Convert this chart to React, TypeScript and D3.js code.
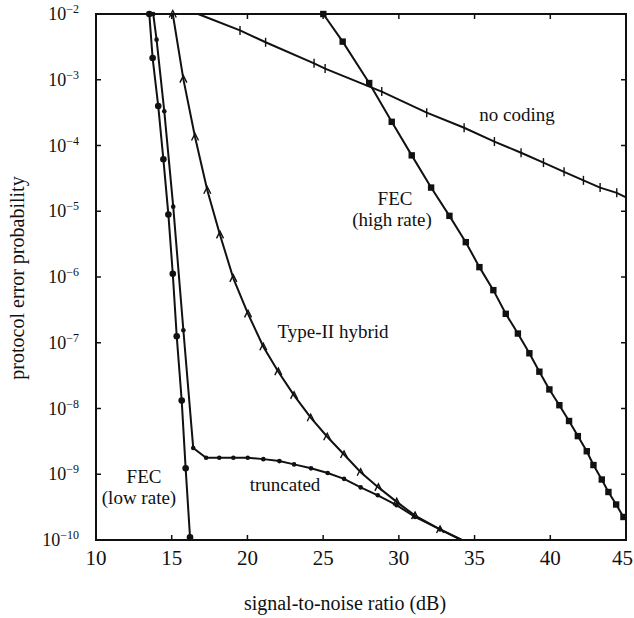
import React from "react";
import * as d3 from "d3";

// SNR (dB) and log10 of protocol error probability for each scheme
const fecLowRate: [number, number][] = [
  [13.52, -2], [13.74, -2.67], [14.11, -3.4], [14.45, -4.21], [14.78, -5.05],
  [15.07, -5.95], [15.33, -6.9], [15.66, -7.88], [15.92, -8.91], [16.21, -9.96],
];

const truncated: [number, number][] = [
  [13.78, -2], [14.0, -2.39], [14.51, -3.48], [15.1, -4.93], [15.77, -6.81],
  [16.42, -8.6], [17.27, -8.75], [18.14, -8.75], [19.07, -8.75], [20.02, -8.75],
  [21.05, -8.77], [22.11, -8.8], [23.08, -8.85], [24.2, -8.91], [25.3, -8.98],
  [26.38, -9.07], [27.48, -9.2], [28.61, -9.32], [29.85, -9.47], [31.07, -9.65],
  [32.72, -9.84], [34.15, -10],
];

const typeIIHybrid: [number, number][] = [
  [15.07, -2], [15.77, -2.99], [16.54, -3.87], [17.35, -4.68], [18.19, -5.36],
  [19.07, -6.02], [20.04, -6.56], [21.05, -7.06], [22.04, -7.44], [23.08, -7.8],
  [24.18, -8.14], [25.27, -8.43], [26.38, -8.7], [27.48, -8.97], [28.65, -9.2],
  [29.86, -9.42], [31.07, -9.63], [32.72, -9.84], [34.15, -10],
];

const noCoding: [number, number][] = [
  [16.74, -2], [19.51, -2.25], [21.2, -2.43], [24.4, -2.75], [25.13, -2.83],
  [28.87, -3.18], [31.84, -3.5], [34.31, -3.73], [36.31, -3.94], [38.07, -4.11],
  [39.55, -4.26], [40.91, -4.4], [42.19, -4.53], [43.29, -4.64], [44.39, -4.72],
  [45, -4.79],
];

const fecHighRate: [number, number][] = [
  [25.01, -2], [26.29, -2.42], [28.04, -3.05], [29.53, -3.64], [30.85, -4.15],
  [32.13, -4.64], [33.34, -5.07], [34.42, -5.47], [35.32, -5.85], [36.24, -6.2],
  [37.06, -6.56], [37.86, -6.86], [38.62, -7.16], [39.28, -7.44], [39.94, -7.71],
  [40.6, -7.95], [41.24, -8.19], [41.82, -8.42], [42.41, -8.65], [42.85, -8.86],
  [43.4, -9.08], [43.84, -9.27], [44.35, -9.46], [44.83, -9.65],
];

const xTicks = [10, 15, 20, 25, 30, 35, 40, 45];
const yExponents = [-2, -3, -4, -5, -6, -7, -8, -9, -10];

const W = 634;
const H = 618;
const left = 96;
const right = 626;
const top = 14;
const bottom = 540;

const serif = "'Liberation Serif', 'DejaVu Serif', serif";

export default function App() {
  const x = d3.scaleLinear().domain([10, 45]).range([left, right]);
  const y = d3.scaleLog().domain([1e-10, 1e-2]).range([bottom, top]);

  const line = d3
    .line<[number, number]>()
    .x((d) => x(d[0]))
    .y((d) => y(Math.pow(10, d[1])));

  const pt = (d: [number, number]) => [x(d[0]), y(Math.pow(10, d[1]))];

  const stroke = "#111";

  return (
    <svg
      width={W}
      height={H}
      style={{ position: "absolute", left: 0, top: 0, background: "#fff" }}
      fontFamily={serif}
    >
      <defs>
        <clipPath id="plot">
          <rect x={left} y={top - 2} width={right - left + 2} height={bottom - top + 4} />
        </clipPath>
      </defs>

      {/* curves */}
      <g clipPath="url(#plot)" fill="none" stroke={stroke} strokeWidth={2}>
        <path d={line(fecLowRate) || ""} />
        <path d={line(truncated) || ""} />
        <path d={line(typeIIHybrid) || ""} />
        <path d={line(noCoding) || ""} />
        <path d={line(fecHighRate) || ""} />
      </g>

      {/* markers */}
      <g fill={stroke} stroke="none">
        {fecLowRate.map((d, i) => {
          const [cx, cy] = pt(d);
          return <circle key={"fl" + i} cx={cx} cy={cy} r={3.3} />;
        })}
        {truncated.slice(0, -1).map((d, i) => {
          const [cx, cy] = pt(d);
          return <circle key={"tr" + i} cx={cx} cy={cy} r={2.3} />;
        })}
        {fecHighRate.map((d, i) => {
          const [cx, cy] = pt(d);
          return <rect key={"fh" + i} x={cx - 3.2} y={cy - 3.2} width={6.4} height={6.4} />;
        })}
      </g>
      <g fill="none" stroke={stroke} strokeWidth={1.4}>
        {typeIIHybrid.slice(0, -1).map((d, i) => {
          const [cx, cy] = pt(d);
          return (
            <path
              key={"t2" + i}
              d={`M${cx - 3.5},${cy + 3.5}L${cx},${cy - 3.5}L${cx + 3.5},${cy + 3.5}`}
            />
          );
        })}
        {noCoding.slice(1, -1).map((d, i) => {
          const [cx, cy] = pt(d);
          return <line key={"nc" + i} x1={cx} x2={cx} y1={cy - 4.5} y2={cy + 4.5} />;
        })}
      </g>

      {/* frame */}
      <rect
        x={left}
        y={top}
        width={right - left}
        height={bottom - top}
        fill="none"
        stroke={stroke}
        strokeWidth={2}
      />

      {/* x ticks */}
      {xTicks.map((t) => (
        <g key={"xt" + t} stroke={stroke} strokeWidth={1.5}>
          <line x1={x(t)} x2={x(t)} y1={bottom} y2={bottom - 5} />
          <line x1={x(t)} x2={x(t)} y1={top} y2={top + 5} />
        </g>
      ))}
      {xTicks.map((t, i) => (
        <text
          key={"xl" + t}
          x={i === xTicks.length - 1 ? 633 : x(t)}
          y={565}
          textAnchor={i === xTicks.length - 1 ? "end" : "middle"}
          fontSize={21}
          fill={stroke}
        >
          {t}
        </text>
      ))}

      {/* y ticks */}
      {yExponents.map((e) => (
        <g key={"yt" + e} stroke={stroke} strokeWidth={1.5}>
          <line x1={left} x2={left + 5} y1={y(Math.pow(10, e))} y2={y(Math.pow(10, e))} />
          <line x1={right} x2={right - 5} y1={y(Math.pow(10, e))} y2={y(Math.pow(10, e))} />
        </g>
      ))}
      {yExponents.map((e) => (
        <text
          key={"yl" + e}
          x={79}
          y={y(Math.pow(10, e)) + 6}
          textAnchor="end"
          fontSize={18}
          fill={stroke}
        >
          10
          <tspan fontSize={12} dy={-7}>
            {"\u2212" + Math.abs(e)}
          </tspan>
        </text>
      ))}

      {/* axis titles */}
      <text x={345} y={610} textAnchor="middle" fontSize={20} fill={stroke}>
        signal-to-noise ratio (dB)
      </text>
      <text
        transform={`translate(24,${278}) rotate(-90)`}
        textAnchor="middle"
        fontSize={20}
        fill={stroke}
      >
        protocol error probability
      </text>

      {/* curve labels */}
      <g fontSize={19} fill={stroke} textAnchor="middle">
        <text x={517} y={121}>no coding</text>
        <text x={395} y={205}>FEC</text>
        <text x={392} y={226}>(high rate)</text>
        <text x={333} y={338}>Type-II hybrid</text>
        <text x={285} y={491}>truncated</text>
        <text x={144} y={483}>FEC</text>
        <text x={139} y={504}>(low rate)</text>
      </g>
    </svg>
  );
}
